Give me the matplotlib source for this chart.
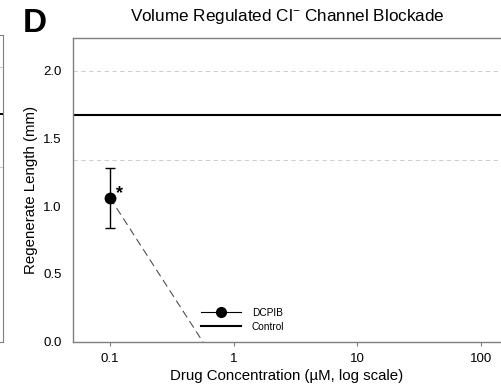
import matplotlib
matplotlib.use("Agg")
import matplotlib.pyplot as plt
from matplotlib.lines import Line2D

plt.rcParams['font.family'] = ['Liberation Sans', 'DejaVu Sans']

# DCPIB data (concentration in uM, regenerate length in mm)
dose = [0.1, 1.0]
length = [1.06, -0.35]
length_err = [0.22, 0.0]

control_mean = 1.67
control_sd = [1.34, 1.99]

# neighbouring panel fragment (panel C)
prev_control = 1.68
prev_sd = [1.29, 2.02]

xticks = [0.1, 1, 10, 100]
xticklabels = ['0.1', '1', '10', '100']
yticks = [0.0, 0.5, 1.0, 1.5, 2.0]

W, H = 501, 389
fig = plt.figure(figsize=(W / 100, H / 100), dpi=100)

spine_col = '#7f7f7f'

# cut off edge of the previous panel
ax0 = fig.add_axes([-50 / W, (H - 342) / H, 53 / W, (342 - 35) / H])
ax0.set_ylim(0, (342 - 35) / 136)
ax0.set_xlim(0, 1)
for yv in prev_sd:
    ax0.axhline(yv, color='#cccccc', lw=0.8, ls=(0, (4, 3)))
ax0.axhline(prev_control, color='black', lw=1.4)
ax0.spines['left'].set_visible(False)
for s in ['right', 'top', 'bottom']:
    ax0.spines[s].set_color(spine_col)
ax0.set_xticks([])
ax0.set_yticks([])

# main panel D
ax = fig.add_axes([73 / W, (H - 342) / H, (505 - 73) / W, (342 - 38) / H])
ax.set_xscale('log')
dec = 123.67
ax.set_xlim(10 ** (-1 - 37 / dec), 10 ** (-1 + 395 / dec))
ax.set_ylim(0, (342 - 38) / 136)

for yv in control_sd:
    ax.axhline(yv, color='#d0d0d0', lw=0.8, ls=(0, (4, 3)), zorder=1)
ax.axhline(control_mean, color='black', lw=1.5, zorder=2)

ax.plot(dose, length, color='#505050', lw=0.8, ls=(0, (7, 4)), zorder=3)
ax.errorbar(dose[:1], length[:1], yerr=length_err[:1], fmt='none',
            ecolor='black', elinewidth=1.0, capsize=3.6, capthick=1.0, zorder=4)
ax.plot(dose[:1], length[:1], 'o', color='black', ms=7.5, zorder=5)

ax.annotate('*', (dose[0], length[0]), xytext=(4, -3), textcoords='offset points',
            fontsize=13, fontweight='bold', ha='left', va='bottom')

# legend
h_dcpib = Line2D([], [], color='black', lw=0.8, marker='o', ms=7, ls='-')
h_ctrl = Line2D([], [], color='black', lw=1.5)
ax.legend([h_dcpib, h_ctrl], ['DCPIB', 'Control'], loc='upper left',
          bbox_to_anchor=(201 / W, 1 - 308 / H), bbox_transform=fig.transFigure,
          frameon=False, fontsize=7.3, handlelength=3.9, handletextpad=1.1,
          borderpad=0, borderaxespad=0, labelspacing=0.35)

ax.set_xticks(xticks)
ax.set_xticklabels(xticklabels)
ax.xaxis.set_minor_locator(matplotlib.ticker.NullLocator())
ax.set_yticks(yticks)
ax.set_yticklabels(['%.1f' % v for v in yticks])
ax.tick_params(axis='x', direction='out', length=3, width=0.8, color=spine_col,
               labelsize=9.5, pad=5)
ax.tick_params(axis='y', length=0, labelsize=9.5, pad=8)

ax.spines['right'].set_visible(False)
for s in ['left', 'top', 'bottom']:
    ax.spines[s].set_color(spine_col)
    ax.spines[s].set_linewidth(1.0)

fig.text(287 / W, 1 - 376 / H, 'Drug Concentration (µM, log scale)',
         ha='center', va='center', fontsize=10.8)
fig.text(31 / W, 1 - 190 / H, 'Regenerate Length (mm)', rotation=90,
         ha='center', va='center', fontsize=10.8)
fig.text(287 / W, 1 - 17 / H, 'Volume Regulated Cl$^{\\mathregular{-}}$ Channel Blockade',
         ha='center', va='center', fontsize=12.3)
fig.text(35 / W, 1 - 23 / H, 'D', ha='center', va='center', fontsize=24,
         fontweight='bold')

fig.savefig('out.png', dpi=100)
